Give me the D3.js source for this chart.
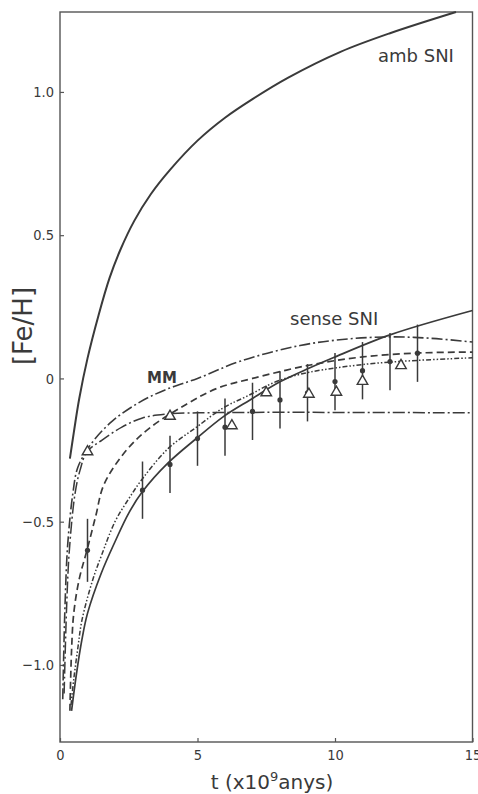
<!DOCTYPE html>
<html>
<head>
<meta charset="utf-8">
<script src="https://cdn.jsdelivr.net/npm/d3@7"></script>
<style>
  body { margin: 0; background: #fff; }
  svg { display: block; }
  text { font-family: "DejaVu Sans", sans-serif; fill: #3a3a3a; }
</style>
</head>
<body>
<svg></svg>
<script>
var width = 478;
var height = 794;

// tick labels
var xTicks = [0, 5, 10, 15];
var yTicks = [1.0, 0.5, 0, -0.5, -1.0];

// model curves, [t (Gyr), [Fe/H]]
var ambSNI = [[0.36,-0.28],[0.5,-0.19],[0.7,-0.07],[1.0,0.07],[1.4,0.22],[1.8,0.35],[2.2,0.45],[2.7,0.55],[3.3,0.643],
  [4.0,0.728],[5.0,0.83],[6.0,0.91],[7.0,0.975],[8.3,1.05],[10.2,1.14],[12,1.205],[14.4,1.279]];
var senseSNI = [[0.42,-1.16],[0.6,-1.03],[0.8,-0.91],[1.0,-0.82],[1.5,-0.68],[2.0,-0.57],[2.5,-0.47],[3.0,-0.395],
  [3.93,-0.295],[4.98,-0.208],[5.93,-0.134],[6.91,-0.075],[8.0,-0.012],[9.09,0.037],[9.93,0.072],[12,0.152],[15,0.237]];
var mmCurve = [[0.1,-1.12],[0.18,-0.8],[0.28,-0.58],[0.47,-0.4],[0.65,-0.31],[1.16,-0.225],[1.89,-0.15],[2.84,-0.086],
  [3.82,-0.04],[5,0.0],[6.55,0.06],[8.73,0.115],[10.5,0.138],[12.1,0.145],[13.5,0.14],[15,0.127]];
var flatCurve = [[0.15,-1.1],[0.24,-0.8],[0.34,-0.6],[0.55,-0.4],[0.73,-0.32],[0.98,-0.256],[1.53,-0.215],[2.25,-0.17],
  [3.0,-0.138],[3.82,-0.125],[5,-0.12],[15,-0.12]];
var dashedCurve = [[0.36,-1.16],[0.42,-0.95],[0.5,-0.82],[0.7,-0.7],[0.98,-0.6],[1.3,-0.48],[1.6,-0.37],[2.42,-0.25],
  [3.3,-0.17],[4.6,-0.09],[5.7,-0.035],[7,0.0],[9.1,0.047],[11,0.075],[13.1,0.089],[15,0.092]];
var dottedCurve = [[0.4,-1.14],[0.5,-1.05],[0.65,-0.94],[0.8,-0.843],[1.2,-0.7],[1.5,-0.62],[2.0,-0.5],[2.5,-0.42],
  [3.0,-0.35],[3.93,-0.245],[4.98,-0.169],[5.93,-0.103],[6.8,-0.062],[7.89,-0.01],[9.09,0.022],[11.16,0.05],[13,0.063],[15,0.072]];

// observations: dots with error bars
var dotT = [1, 3, 4, 5, 6, 7, 8, 9, 10, 11, 12, 13];
var dotFe = [-0.60, -0.39, -0.30, -0.21, -0.17, -0.115, -0.075, -0.05, -0.011, 0.027, 0.059, 0.088];
var dotErr = [0.11, 0.10, 0.10, 0.095, 0.10, 0.10, 0.10, 0.10, 0.10, 0.10, 0.10, 0.10];
// observations: open triangles
var triT = [1.0, 4.0, 6.25, 7.5, 9.05, 10.05, 11.0, 12.4];
var triFe = [-0.256, -0.132, -0.165, -0.05, -0.055, -0.048, -0.01, 0.045];

var svg = d3.select("svg")
    .attr("width", width)
    .attr("height", height);

var plotLeft = 60, plotRight = 472.5, plotTop = 12, plotBottom = 742;
var xScale = d3.scaleLinear().domain([0, 15]).range([plotLeft, plotRight]);
var yScale = d3.scaleLinear().domain([-1.269, 1.279]).range([plotBottom, plotTop]);

var ink = "#3a3a3a";

//frame
svg.append("rect")
    .attr("x", plotLeft).attr("y", plotTop)
    .attr("width", plotRight - plotLeft).attr("height", plotBottom - plotTop)
    .attr("fill", "none").attr("stroke", "#555").attr("stroke-width", 1.4);

//axes with inward ticks
var fmt = d => d === 0 ? "0" : d3.format(".1f")(d);
var yAxis = svg.append("g")
    .attr("transform", "translate(" + plotLeft + ",0)")
    .call(d3.axisLeft(yScale).tickValues(yTicks).tickFormat(fmt).tickSize(-4).tickPadding(6));
var xAxis = svg.append("g")
    .attr("transform", "translate(0," + plotBottom + ")")
    .call(d3.axisBottom(xScale).tickValues(xTicks).tickFormat(d3.format("d")).tickSize(-4).tickPadding(8));
[xAxis, yAxis].forEach(function(a) {
    a.attr("font-size", null).attr("font-family", null);
    a.select(".domain").remove();
    a.selectAll("line").attr("stroke", "#555").attr("stroke-width", 1.2);
    a.selectAll("text")
        .style("font-size", "14.5px")
        .style("font-family", '"DejaVu Sans Condensed", "DejaVu Sans", sans-serif')
        .style("fill", ink);
});

//model curves
var line = d3.line()
    .x(d => xScale(d[0]))
    .y(d => yScale(d[1]))
    .curve(d3.curveCatmullRom.alpha(0.5));

var curves = [
    {data: ambSNI, dash: null, w: 2},
    {data: senseSNI, dash: null, w: 1.7},
    {data: mmCurve, dash: "11,3,2,3", w: 1.6},
    {data: flatCurve, dash: "12,3,2,3", w: 1.5},
    {data: dashedCurve, dash: "7,4", w: 1.7},
    {data: dottedCurve, dash: "5,2,1.5,2,1.5,2", w: 1.5}
];
svg.append("g").selectAll("path")
    .data(curves)
    .enter()
    .append("path")
    .attr("d", d => line(d.data))
    .attr("fill", "none")
    .attr("stroke", ink)
    .attr("stroke-width", d => d.w)
    .attr("stroke-dasharray", d => d.dash);

//error bars and dots
var obs = dotT.map((t, i) => ({t: t, fe: dotFe[i], err: dotErr[i]}));
var gObs = svg.append("g");
gObs.selectAll("line")
    .data(obs)
    .enter()
    .append("line")
    .attr("x1", d => xScale(d.t)).attr("x2", d => xScale(d.t))
    .attr("y1", d => yScale(d.fe + d.err)).attr("y2", d => yScale(d.fe - d.err))
    .attr("stroke", ink).attr("stroke-width", 1.5);
gObs.selectAll("circle")
    .data(obs)
    .enter()
    .append("circle")
    .attr("cx", d => xScale(d.t)).attr("cy", d => yScale(d.fe))
    .attr("r", 2.6).attr("fill", ink);

//open triangles
var tri = triT.map((t, i) => ({t: t, fe: triFe[i]}));
svg.append("g").selectAll("path")
    .data(tri)
    .enter()
    .append("path")
    .attr("d", d3.symbol(d3.symbolTriangle, 48))
    .attr("transform", d => "translate(" + xScale(d.t) + "," + yScale(d.fe) + ")")
    .attr("fill", "#fff").attr("stroke", ink).attr("stroke-width", 1.4);

//curve labels
svg.append("text").attr("x", 378).attr("y", 62).attr("font-size", 18).text("amb SNI");
svg.append("text").attr("x", 290).attr("y", 325).attr("font-size", 18).text("sense SNI");
svg.append("text").attr("x", 147).attr("y", 383).attr("font-size", 15).attr("font-weight", "bold").text("MM");

//axis titles
svg.append("text")
    .attr("transform", "translate(32,326) rotate(-90)")
    .attr("text-anchor", "middle")
    .attr("font-size", 26)
    .text("[Fe/H]");
var xt = svg.append("text")
    .attr("x", 272).attr("y", 789)
    .attr("text-anchor", "middle")
    .attr("font-size", 20);
xt.append("tspan").text("t (x10");
xt.append("tspan").attr("dy", -8).attr("font-size", 13).text("9");
xt.append("tspan").attr("dy", 8).text("anys)");
</script>
</body>
</html>
